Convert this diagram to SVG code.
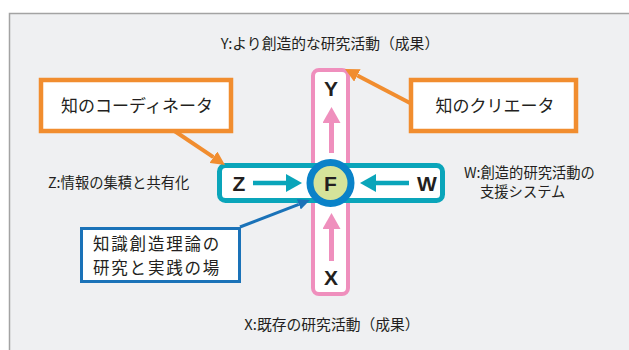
<svg xmlns="http://www.w3.org/2000/svg" width="629" height="350" viewBox="0 0 629 350">
<defs>
<style>
.jp{font-family:"Noto Sans CJK JP","Noto Sans",sans-serif;fill:#231f20}
.t15{font-size:14.8px}
.t14{font-size:14.3px}
.t17{font-size:17px}
.t18{font-size:16.5px;letter-spacing:1.8px}
.ltr{font-family:"Liberation Sans","DejaVu Sans",sans-serif;font-weight:bold;font-size:21px;fill:#231f20;text-anchor:middle}
.orange{fill:#fff;stroke:#f18d2f;stroke-width:4.5}
.oline{stroke:#f18d2f;stroke-width:4;fill:none}
.bline{stroke:#1a72b8;stroke-width:3;fill:none}
.tline{stroke:#0aa5ba;stroke-width:4.5;fill:none}
.pline{stroke:#ef8fbd;stroke-width:5;fill:none}
</style>
<marker id="ahO" markerUnits="userSpaceOnUse" viewBox="0 0 14 14" refX="0" refY="7" markerWidth="14" markerHeight="14" orient="auto"><path d="M0,0 L14,7 L0,14 z" fill="#f18d2f"/></marker>
<marker id="ahB" markerUnits="userSpaceOnUse" viewBox="0 0 12 11" refX="0" refY="5.5" markerWidth="12" markerHeight="11" orient="auto"><path d="M0,0 L12,5.5 L0,11 z" fill="#1a72b8"/></marker>
<marker id="ahT" markerUnits="userSpaceOnUse" viewBox="0 0 16 18" refX="0" refY="9" markerWidth="16" markerHeight="18" orient="auto"><path d="M0,0 L16,9 L0,18 z" fill="#0aa5ba"/></marker>
<marker id="ahP" markerUnits="userSpaceOnUse" viewBox="0 0 16 18" refX="0" refY="9" markerWidth="16" markerHeight="18" orient="auto"><path d="M0,0 L16,9 L0,18 z" fill="#ef8fbd"/></marker>
</defs>
<rect x="9.5" y="13.5" width="640" height="350" fill="#eff0f2" stroke="#a3a3a3" stroke-width="1.5"/>
<text class="jp t15" x="330" y="48.5" text-anchor="middle">Y:より創造的な研究活動（成果）</text>
<text class="jp t15" x="332" y="329.5" text-anchor="middle">X:既存の研究活動（成果）</text>
<text class="jp t14" x="48" y="188">Z:情報の集積と共有化</text>
<text class="jp t14" x="464" y="178">W:創造的研究活動の</text>
<text class="jp t14" x="480" y="197">支援システム</text>
<g id="axisXY">
<rect x="313" y="70" width="35" height="224" rx="6" fill="#fff" stroke="#ef8fbd" stroke-width="4"/>
<text class="ltr" x="331" y="96">Y</text>
<text class="ltr" x="331" y="285">X</text>
</g>
<g id="axisZW">
<rect x="219.5" y="165.5" width="223" height="35" rx="6" fill="#fff" stroke="#0aa5ba" stroke-width="5"/>
<text class="ltr" x="239" y="190.5">Z</text>
<text class="ltr" x="427" y="190.5">W</text>
</g>
<g id="connectors">
<line class="pline" x1="331.5" y1="153" x2="331.5" y2="123" marker-end="url(#ahP)"/>
<line class="pline" x1="331.5" y1="261" x2="331.5" y2="229" marker-end="url(#ahP)"/>
<line class="tline" x1="253" y1="183" x2="286" y2="183" marker-end="url(#ahT)"/>
<line class="tline" x1="409" y1="183" x2="376" y2="183" marker-end="url(#ahT)"/>
<line class="oline" x1="410" y1="103" x2="357.4" y2="75.5" marker-end="url(#ahO)"/>
<line class="oline" x1="173" y1="130" x2="213.4" y2="157.2" marker-end="url(#ahO)"/>
<line class="bline" x1="240" y1="227" x2="298.8" y2="204.3" marker-end="url(#ahB)"/>
</g>
<g id="nodeF">
<circle cx="330.5" cy="183" r="20.5" fill="#d5e39a" stroke="#0a82c8" stroke-width="7"/>
<text class="ltr" x="330.5" y="190.5">F</text>
</g>
<g id="coordinator">
<rect class="orange" x="41" y="80" width="190" height="51"/>
<text class="jp t17" x="137" y="112" text-anchor="middle">知のコーディネータ</text>
</g>
<g id="creator">
<rect class="orange" x="411" y="80" width="165" height="51"/>
<text class="jp t17" x="495" y="112" text-anchor="middle">知のクリエータ</text>
</g>
<g id="field">
<rect x="81.5" y="228.5" width="158" height="53" fill="#fff" stroke="#1a72b8" stroke-width="3"/>
<text class="jp t18" x="93" y="250">知識創造理論の</text>
<text class="jp t18" x="93" y="274">研究と実践の場</text>
</g>
</svg>
